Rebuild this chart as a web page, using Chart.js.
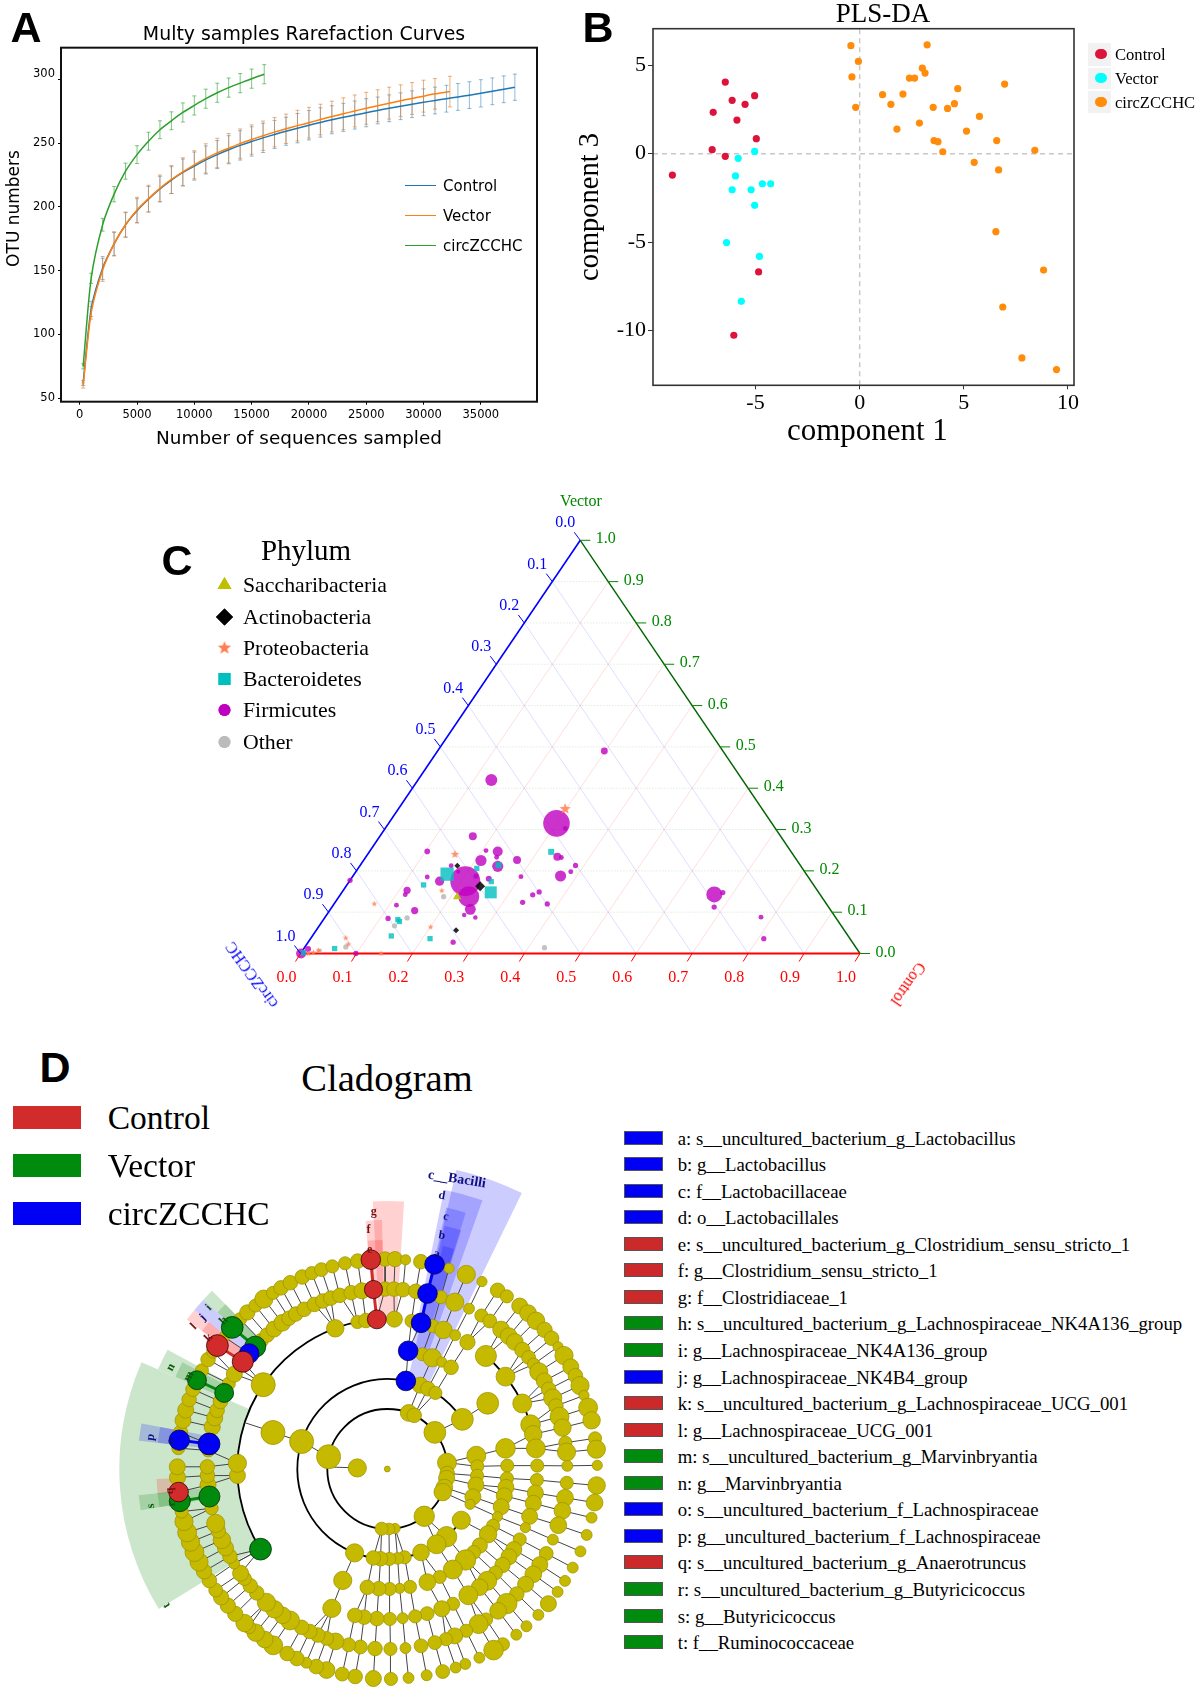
<!DOCTYPE html>
<html><head><meta charset="utf-8">
<script src="https://cdn.jsdelivr.net/npm/chart.js@4"></script>
<style>
html,body{margin:0;padding:0;background:#fff;width:1200px;height:1692px;overflow:hidden}
body{filter:blur(.4px)}
canvas{position:absolute}
.t{position:absolute;white-space:pre;line-height:1}
.s{position:absolute;box-sizing:border-box}
</style></head><body>
<script>
// ---------- Panel A: rarefaction ----------
const samplesControl=[300,1000,2000,3000,4000,5000,6000,7000,8000,9000,10000,11000,12000,13000,14000,15000,16000,17000,18000,19000,20000,21000,22000,23000,24000,25000,26000,27000,28000,29000,30000,31000,32000,33000,34000,35000,36000,37000,37970];
const otuControl=[62,120,152,171,186,197,206,214,221,227,232,236.8,241,244.8,248.2,251.3,254.1,256.8,259.3,261.7,264,266.2,268.3,270.2,272,273.8,275.6,277.3,278.9,280.5,282,283.4,284.8,286.2,287.6,289,290.6,292.2,293.8];
const errControl=[2,6,9,9,9.5,9.5,10,10,10.5,10.5,11,11,11,11,11.5,11.5,11.5,11,11,11.5,11.5,11.5,11,11,11,11,10.5,10.5,10.5,10.5,10.5,10.5,10.5,10.5,10.5,10.7,10.5,10.5,10.3];
const samplesVector=[300,1000,2000,3000,4000,5000,6000,7000,8000,9000,10000,11000,12000,13000,14000,15000,16000,17000,18000,19000,20000,21000,22000,23000,24000,25000,26000,27000,28000,29000,30000,31000,32300];
const otuVector=[60,117,150.6,171,186,197.6,206.5,214.5,221.5,227.5,233,238,242.3,246,249.6,252.8,255.8,258.6,261.2,263.7,266,268.5,270.8,273,275.2,277.3,279.3,281.3,283.2,285,286.8,288.6,290.4];
const errVector=[2,5,9,9.5,10,10,10.5,10.5,11,11,11,11.5,11.5,11.5,11.5,11.5,11.5,11.5,11.5,12,12,12,12,12.5,12.5,12.5,12.5,12.5,12.5,12.5,12.5,12,12];
const samplesCirc=[300,1000,2000,3000,4000,5000,6000,7000,8000,9000,10000,11000,12000,13000,14000,15000,16100];
const otuCirc=[75,144,186,210,228,241,251.5,260.5,267.5,274,279.5,284.8,289.5,293.5,297,300.5,304];
const errCirc=[2,4,5,6,6.3,7,7,7,7,7.5,7.5,7.5,7.5,7.5,7.5,7.5,7.5];
const ticksAx=[0,5000,10000,15000,20000,25000,30000,35000];
const ticksAy=[50,100,150,200,250,300];

// ---------- Panel B: PLS-DA (component 1, component 3) ----------
const plsControl=[[-8.99,-1.21],[-7.03,2.34],[-6.45,4.05],[-6.12,3.02],[-5.5,2.79],[-5.04,3.28],[-5.89,1.9],[-4.96,0.85],[-7.08,0.23],[-6.45,-0.15],[-4.85,-6.69],[-6.04,-10.27]];
const plsVector=[[-5.04,0.13],[-5.83,-0.26],[-5.96,-1.26],[-6.12,-2.04],[-5.21,-2.04],[-4.67,-1.7],[-4.27,-1.7],[-5.04,-2.92],[-6.39,-5.03],[-4.81,-5.81],[-5.68,-8.35]];
const plsCirc=[[-0.42,6.11],[3.24,6.16],[-0.06,5.22],[3.01,4.84],[3.14,4.56],[-0.37,4.34],[2.39,4.28],[2.64,4.28],[6.96,3.94],[4.71,3.68],[1.1,3.34],[2.08,3.37],[1.5,2.79],[-0.19,2.62],[3.53,2.62],[4.22,2.56],[4.55,2.83],[5.75,2.11],[1.79,1.39],[2.87,1.73],[5.13,1.28],[3.57,0.74],[3.76,0.68],[6.58,0.74],[3.99,0.11],[8.41,0.19],[5.5,-0.49],[6.67,-0.92],[6.54,-4.41],[8.83,-6.58],[6.87,-8.67],[7.79,-11.55],[9.45,-12.21]];
const ticksBx=[-5,0,5,10];
const ticksBy=[-10,-5,0,5];

// ---------- Panel C: ternary, [Control, Vector, abundance] ----------
const firmicutes=[[.298,.49,12],[.131,.42,36],[.3,.315,177],[.322,.3025,6],[.166,.284,16],[.103,.247,8],[.207,.249,6],[.229,.247,25],[.21,.225,31],[.234,.233,6],[.274,.226,16],[.247,.211,31],[.342,.234,16],[.35,.2325,6],[.385,.213,7],[.384,.198,6],[.371,.1875,31],[.301,.186,6],[.134,.185,6],[.161,.175,21],[.207,.175,225],[.232,.1375,110],[.25,.107,30],[.246,.181,9],[0,.177,7],[.114,.153,13],[.116,.1425,6],[.22,.1875,7],[.352,.149,7],[.344,.142,7],[.335,.124,7],[.381,.12,7],[.113,.117,6],[.152,.104,13],[.246,.093,5],[.269,.087,5],[.114,.085,7],[.259,.0275,7],[.668,.143,64],[.681,.1475,7],[.683,.1125,7],[.779,.088,6],[.81,.036,7],[.099,0,7],[.001,0,25],[.008,.011,9],[.163,.2125,6],[.183,.198,4]];
const bacteroidetes=[[.325,.246,18],[.247,.214,18],[.212,.206,14],[.166,.192,88],[.254,.174,14],[.266,.148,72],[.137,.166,14],[.133,.082,14],[.138,.0775,14],[.141,.0425,14],[.2135,.036,14],[.055,.012,14],[.004,.002,14]];
const actinobacteria=[[.174,.2125,9],[.2395,.163,25],[.25,.056,9]];
const proteobacteria=[[.298,.35,36],[.156,.24,20],[.1765,.152,10],[.072,.12,10],[.2005,.064,10],[.062,.0375,10],[.074,.0225,10],[.144,0,10],[.028,.0075,10],[.022,.0025,10],[.014,0,10]];
const saccharibacteria=[[.2115,.137,24]];
const otherPhyla=[[.187,.1375,7],[.1475,.086,7],[.1345,.067,7],[.073,.016,7],[.429,.014,7],[.031,.0067,5]];
const ternaryTicks=[0,.1,.2,.3,.4,.5,.6,.7,.8,.9,1];

// ---------- Panel D: cladogram, [angle clockwise from top, abundance] per ring ----------
const ring7=[[359.4,20],[2.1,21],[5,14],[9.2,20],[17.1,14],[22.1,25],[26.8,14],[31.7,20],[34.7,18],[39.1,22],[42.1,23],[45.1,24],[48.5,21],[51.5,20],[54.4,14],[57.3,25],[60.9,22],[63.6,20],[66.6,25],[69.5,14],[73,26],[76.6,24],[81.6,18],[84.6,25],[89,14],[94.5,24],[99.2,23],[103.4,15],[108.3,15],[113.1,15],[118,15],[122.2,15],[125.8,15],[129.9,22],[134,15],[138.5,15],[142.1,15],[146.6,18],[149.6,27],[154,15],[158.2,15],[161,15],[164.7,19],[169.2,15],[174.2,15],[179,18],[183.8,22],[188.8,20],[192.4,19],[196.8,23],[199.8,20],[202.7,15],[205.5,20],[208.5,20],[212.9,26],[215.7,23],[218.8,24],[221.2,18],[222.8,24],[226.4,21],[229.4,21],[232.3,21],[234.8,19],[237.9,20],[240.8,21],[243.7,25],[246.7,26],[249.6,25],[252.4,26],[255.5,25],[258.3,18],[267.7,22],[270.6,22],[275.7,18],[280,20],[283.4,22],[286.3,22],[289.3,20],[292.3,20],[298,18],[301.4,20],[304,18],[309,15],[315.5,18],[318.2,21],[321.1,18],[324,25],[327,18],[329.6,20],[332.5,20],[336.1,20],[338.9,18],[341.7,19],[344.8,18],[348.4,18],[351.9,20]];
const ring6=[[359.3,20],[2.1,20],[5,20],[9.1,20],[17.3,18],[22,25],[27,15],[31.5,18],[34.7,19],[39.2,23],[42.4,23],[45.1,23],[48.6,21],[51.7,19],[54.4,17],[57.3,25],[60.7,22],[63.7,20],[66.8,25],[69.5,20],[73.1,26],[76.7,24],[81.6,18],[84.6,25],[89,15],[94.4,18],[99.2,23],[103.4,23],[108.2,23],[113.1,15],[118,19],[122.1,22],[125.8,23],[129.8,22],[134,20],[138.4,28],[142,23],[146.7,18],[149.5,26],[154,18],[158,22],[161,18],[164.7,19],[169.2,19],[174.2,15],[179,18],[183.9,20],[188.6,19],[192.4,19],[196.7,23],[199.7,19],[202.7,20],[205.5,20],[208.4,20],[212.7,26],[215.6,23],[218.8,24],[222.2,25],[226.5,20],[229.6,20],[232.5,19],[234.6,22],[238.3,15],[241,20],[244,22],[246.8,24],[249.9,20],[252.4,25],[257.4,18],[264.9,22],[267.9,20],[270.7,20],[275.9,18],[283.5,22],[286.5,22],[289,20],[292,20],[298.3,18],[301.8,22],[315.4,20],[318.1,20],[321,22],[324.3,23],[326.9,20],[329.4,20],[332.5,20],[336.1,20],[339,20],[341.7,20],[344.7,20],[348.4,20],[351.9,22]];
const ring5=[[2.7,22],[9.3,18],[17.6,18],[22,24],[26.9,15],[32.3,21],[41.1,29],[52,26],[64.1,26],[72.8,27],[76.6,24],[82.1,26],[88.7,18],[94.2,18],[99.2,22],[103.2,22],[108.4,22],[113,14],[118,18],[122.5,22],[125.8,22],[129.8,21],[133.8,19],[138.2,26],[142,23],[147.3,26],[154,18],[158.7,22],[164.6,19],[169.3,18],[174.1,15],[179,18],[184,20],[188.9,20],[192.5,20],[201.7,25],[267.5,22],[272.2,25],[304.2,33],[339.7,24],[348.5,18],[351.8,20]];
const ring4=[[17,18],[22,25],[27,14],[32.1,20],[56.8,30],[80.1,27],[88.4,18],[94.5,18],[98.8,22],[102.9,22],[108.3,22],[113.4,14],[118.2,18],[122.9,24],[129.6,21],[134,19],[139.3,28],[146.9,26],[154.1,18],[160.5,23],[169.1,18],[174.1,14],[178.9,18],[184.1,20],[189.6,20],[201.8,25],[287.7,33]];
const ring3=[[21.4,22],[26.8,20],[32.3,18],[56.5,30],[81.5,26],[88.3,18],[94.3,18],[100.2,22],[108,22],[113.1,14],[124.7,25],[138.8,28],[146.8,26],[158,23],[168.9,18],[173.4,16],[178.7,18],[184.3,20],[188.9,20],[201.3,25],[287.8,33]];
const ring2=[[20.9,23],[26.6,20],[52.4,30],[83.9,26],[94.2,20],[98.9,22],[108,23],[112.6,24],[142,28],[172.6,14],[178.4,16],[185.4,18],[281.8,33]];
const ring1=[[272,25]];
const ring0=[[0,8]];
// enriched clades: [ring, angle, abundance]
const cladeControl=[[7,355.5,27],[6,355.6,25],[5,356,26],[7,306,30],[6,306.6,29],[7,263.7,27]];
const cladeVector=[[7,312.4,30],[6,312.8,29],[7,295,26],[6,295,26],[6,261.2,29],[7,261.2,29],[5,237.7,30]];
const cladeCirc=[[3,11.9,27],[4,10,27],[5,13,27],[6,12.9,27],[7,13,27],[6,278,30],[7,277.9,28],[6,309.9,27]];
const chainControl=[[[5,356],[6,355.6],[7,355.5]],[[6,306.6],[7,306]]];
const chainVector=[[[6,312.8],[7,312.4]],[[6,295],[7,295]],[[6,261.2],[7,261.2]]];
const chainCirc=[[[5,13],[6,12.9],[7,13]],[[6,278],[7,277.9]]];
const legendItems=["a: s__uncultured_bacterium_g_Lactobacillus","b: g__Lactobacillus","c: f__Lactobacillaceae","d: o__Lactobacillales","e: s__uncultured_bacterium_g_Clostridium_sensu_stricto_1","f: g__Clostridium_sensu_stricto_1","g: f__Clostridiaceae_1","h: s__uncultured_bacterium_g_Lachnospiraceae_NK4A136_group","i: g__Lachnospiraceae_NK4A136_group","j: g__Lachnospiraceae_NK4B4_group","k: s__uncultured_bacterium_g_Lachnospiraceae_UCG_001","l: g__Lachnospiraceae_UCG_001","m: s__uncultured_bacterium_g_Marvinbryantia","n: g__Marvinbryantia","o: s__uncultured_bacterium_f_Lachnospiraceae","p: g__uncultured_bacterium_f_Lachnospiraceae","q: s__uncultured_bacterium_g_Anaerotruncus","r: s__uncultured_bacterium_g_Butyricicoccus","s: g__Butyricicoccus","t: f__Ruminococcaceae"];
const legendClass=["circ","circ","circ","circ","ctrl","ctrl","ctrl","vec","vec","circ","ctrl","ctrl","vec","vec","circ","circ","ctrl","vec","vec","vec"];

// ---------- helpers ----------
const SERIF='"Liberation Serif",serif', SANS='"Liberation Sans",sans-serif', DEJA='"DejaVu Sans",sans-serif';
function txt(s,x,y,o={}){const e=document.createElement('div');e.className='t';e.textContent=s;
 e.style.cssText+=`left:${x}px;top:${y}px;font:${o.style||''} ${o.weight||'normal'} ${o.size||16}px ${o.font||SERIF};color:${o.color||'#000'};line-height:1;`+
 `transform:translate(${o.left?'0':'-50%'},-50%) rotate(${o.rot||0}deg);`;document.body.appendChild(e);return e;}
function box(x,y,w,h,bg,extra=''){const e=document.createElement('div');e.className='s';e.style.cssText+=`left:${x}px;top:${y}px;width:${w}px;height:${h}px;background:${bg};${extra}`;document.body.appendChild(e);}
function cv(x,y,w,h){const c=document.createElement('canvas');c.width=w;c.height=h;c.style.cssText=`left:${x}px;top:${y}px;width:${w}px;height:${h}px`;document.body.appendChild(c);return c;}
const base={responsive:false,animation:false,devicePixelRatio:1,events:[]};
const noLegend={legend:{display:false},tooltip:{enabled:false}};
const frame=(color,w)=>({id:'frame',afterDatasetsDraw(ch){const a=ch.chartArea,c=ch.ctx;c.save();c.strokeStyle=color;c.lineWidth=w;c.strokeRect(a.left,a.top,a.right-a.left,a.bottom-a.top);c.restore();}});
const errSeg=(xs,ys,es)=>xs.flatMap((x,i)=>[{x,y:ys[i]-es[i]},{x,y:ys[i]+es[i]},{x,y:null}]);
const curve=(xs,ys)=>xs.map((x,i)=>({x,y:ys[i]}));
const rightGap=w=>({position:'right',display:true,ticks:{display:false},grid:{display:false},border:{display:false},afterFit:s=>{s.width=w}});

// ---------- A ----------
function errDs(xs,ys,es,col){return {data:errSeg(xs,ys,es),showLine:true,borderColor:col,borderWidth:1,pointStyle:'line',pointRadius:2,pointBorderColor:col,pointBorderWidth:1,spanGaps:false};}
function lineDs(xs,ys,col,w){return {data:curve(xs,ys),showLine:true,borderColor:col,borderWidth:w,pointRadius:0,tension:.25};}
const BL='#1f77b4',OR='#ff7f0e',GR='#2ca02c';
new Chart(cv(0,0,608,470),{type:'scatter',data:{datasets:[
 lineDs(samplesVector,otuVector,OR,1.5),lineDs(samplesControl,otuControl,BL,1.5),lineDs(samplesCirc,otuCirc,GR,1.5),
 errDs(samplesVector,otuVector,errVector,'rgba(224,124,40,.6)'),errDs(samplesControl,otuControl,errControl,'rgba(31,119,180,.5)'),errDs(samplesCirc,otuCirc,errCirc,'rgba(44,160,44,.6)')]},
 options:{...base,layout:{padding:0,autoPadding:false},plugins:{...noLegend,title:{display:true,text:'Multy samples Rarefaction Curves',color:'#000',font:{family:'DejaVu Sans',size:18.9,weight:'normal',lineHeight:1.2},padding:{top:23.7,bottom:1.3}}},
 scales:{x:{type:'linear',min:-1632,max:39900,afterBuildTicks:s=>{s.ticks=ticksAx.map(v=>({value:v}))},afterFit:s=>{s.height=68.3},
   ticks:{maxRotation:0,autoSkip:false,color:'#000',font:{family:'DejaVu Sans',size:11.5},padding:3,callback:v=>String(v)},grid:{drawOnChartArea:false,tickLength:3,color:'#000'},border:{display:false},
   title:{display:true,text:'Number of sequences sampled',color:'#000',font:{family:'DejaVu Sans',size:18.4,weight:'normal'},padding:{top:4,bottom:20}}},
  y:{min:47.3,max:324.8,afterBuildTicks:s=>{s.ticks=ticksAy.map(v=>({value:v}))},afterFit:s=>{s.width=61},
   ticks:{autoSkip:false,color:'#000',font:{family:'DejaVu Sans',size:11.5,lineHeight:1},padding:3,callback:v=>v===300?['300','']:String(v)},grid:{drawOnChartArea:false,tickLength:3,color:'#000'},border:{display:false},
   title:{display:true,text:'      OTU numbers',color:'#000',font:{family:'DejaVu Sans',size:17,weight:'normal'},padding:{top:4,bottom:0}}},
  yGap:rightGap(71)}},
 plugins:[frame('#111',2)]});
[['Control',BL,185.7],['Vector',OR,215.7],['circZCCHC',GR,245.7]].forEach(([s,c,y])=>{box(404.5,y-.75,31,1.5,c);txt(s,443,y,{font:DEJA,size:15,left:true});});
txt('A',26,26.5,{font:SANS,weight:'bold',size:43});

// ---------- B ----------
const P=a=>a.map(([x,y])=>({x,y}));
const ptDs=(a,col)=>({data:P(a),pointRadius:3.6,pointBackgroundColor:col,pointBorderColor:col,pointBorderWidth:0});
const xB=[-9.92,10.29], yB=[-13.1,7.07];
const dash={showLine:true,borderColor:'#c8c8c8',borderWidth:1.5,borderDash:[5,4],pointRadius:0};
new Chart(cv(570,0,626,450),{type:'scatter',data:{datasets:[
 ptDs(plsControl,'#dc143c'),ptDs(plsVector,'#00ffff'),ptDs(plsCirc,'#ff8c0a'),
 {...dash,data:[{x:xB[0],y:0},{x:xB[1],y:0}]},{...dash,data:[{x:0,y:yB[0]},{x:0,y:yB[1]}]}]},
 options:{...base,layout:{padding:0,autoPadding:false},plugins:{...noLegend,title:{display:true,text:'PLS-DA',color:'#000',font:{family:'Liberation Serif',size:27,weight:'normal',lineHeight:1},padding:{top:1.2,bottom:.5}}},
 scales:{x:{type:'linear',min:xB[0],max:xB[1],afterBuildTicks:s=>{s.ticks=ticksBx.map(v=>({value:v}))},afterFit:s=>{s.height=64.7},
   ticks:{maxRotation:0,autoSkip:false,color:'#000',font:{family:'Liberation Serif',size:22},padding:1,callback:v=>String(v)},grid:{drawOnChartArea:false,tickLength:4,color:'#333'},border:{display:false},
   title:{display:true,text:' component 1',color:'#000',font:{family:'Liberation Serif',size:31,weight:'normal'},padding:{top:0,bottom:0}}},
  y:{min:yB[0],max:yB[1],afterBuildTicks:s=>{s.ticks=ticksBy.map(v=>({value:v}))},afterFit:s=>{s.width=83},
   ticks:{autoSkip:false,color:'#000',font:{family:'Liberation Serif',size:22},padding:2,callback:v=>String(v)},grid:{drawOnChartArea:false,tickLength:5,color:'#333'},border:{display:false},
   title:{display:true,text:'component 3',color:'#000',font:{family:'Liberation Serif',size:28.5,weight:'normal'},padding:{top:3,bottom:0}}},
  yGap:rightGap(122)}},
 plugins:[frame('#333',1.6)]});
[['Control','#dc143c',54,43,23],['Vector','#00ffff',78,68,21],['circZCCHC','#ff8c0a',102,91,22]].forEach(([s,c,y,t,h])=>{box(1088,t,23,h,'#f2f2f2');
 box(1095.4,y-5.4,11.2,10.8,c,'border-radius:50%');txt(s,1115,y+1,{size:16.6,left:true});});
txt('B',598,26.5,{font:SANS,weight:'bold',size:43});

// ---------- C ----------
const tern=([c,v,a])=>({x:c+v/2,y:v,a});
const rad=ctx=>Math.sqrt(ctx.raw&&ctx.raw.a||1);
const starCache={};
function starCanvas(r,col){const k=r.toFixed(2)+col;if(starCache[k])return starCache[k];const s=Math.ceil(2*r+2),c=document.createElement('canvas');c.width=c.height=s;const g=c.getContext('2d');
 g.fillStyle=col;g.beginPath();for(let i=0;i<10;i++){const R=i%2?r*.42:r,t=-Math.PI/2+i*Math.PI/5;g.lineTo(s/2+R*Math.cos(t),s/2+R*Math.sin(t));}g.closePath();g.fill();return starCache[k]=c;}
const COR='rgba(255,127,80,.85)',MAG='rgba(191,0,191,.8)',TEA='rgba(0,191,191,.8)',BLK='rgba(0,0,0,.85)',YEL='rgba(191,191,0,.9)',SIL='rgba(185,185,185,.85)';
const ternDs=(arr,style,col)=>({data:arr.map(tern),pointStyle:style,pointRadius:rad,pointBackgroundColor:col,pointBorderWidth:0,pointBorderColor:col});
const gridOf=(pairs,col,dash,w)=>({data:pairs.flatMap(([a,b])=>[tern([a[0],a[1],1]),tern([b[0],b[1],1]),{x:0,y:null}]),showLine:true,borderColor:col,borderWidth:w,borderDash:dash||[],pointRadius:0});
const inner=ternaryTicks.slice(1,-1);
const tOff={ctrl:{t:[-5,8],l:[-14,24]},circ:{t:[-6,-8],l:[-15,-17]},vec:{t:[10,0],l:[25.5,-1]}};
const ternPlugin={id:'ternTicks',afterDatasetsDraw(ch){const c=ch.ctx,X=ch.scales.x,Y=ch.scales.y;c.save();c.textAlign='center';c.textBaseline='middle';c.font='16px "Liberation Serif"';
 const tick=(pt,o,label,col)=>{const px=X.getPixelForValue(pt.x),py=Y.getPixelForValue(pt.y);c.strokeStyle=c.fillStyle=col;c.lineWidth=1;c.beginPath();c.moveTo(px,py);c.lineTo(px+o.t[0],py+o.t[1]);c.stroke();c.fillText(label,px+o.l[0],py+o.l[1]);};
 ternaryTicks.forEach(k=>{const L=k.toFixed(1);
  tick(tern([k,0,1]),tOff.ctrl,L,'#f00');
  tick(tern([0,1-k,1]),tOff.circ,L,'#00f');
  tick(tern([1-k,k,1]),tOff.vec,L,'#080');});
 c.restore();}};
const xC=[-0.269,1.1608],yC=[-0.1609,1.1459];
new Chart(cv(150,480,800,540),{type:'scatter',data:{datasets:[
 ternDs(actinobacteria,'rectRot',BLK),ternDs(saccharibacteria,'triangle',YEL),
 ternDs(proteobacteria,ctx=>starCanvas(rad(ctx),COR),COR),
 ternDs(bacteroidetes,'rect',TEA),ternDs(firmicutes,'circle',MAG),ternDs(otherPhyla,'circle',SIL),
 gridOf([[[0,0],[1,0]]],'#f00',null,2),gridOf([[[0,0],[0,1]]],'#0000ff',null,1.6),gridOf([[[1,0],[0,1]]],'#006400',null,1.4),
 gridOf(inner.map(k=>[[0,k],[1-k,k]]),'rgba(0,128,0,.2)',[1,2],1),
 gridOf(inner.map(k=>[[k,0],[k,1-k]]),'rgba(255,0,0,.17)',null,.8),
 gridOf(inner.map(k=>[[0,1-k],[1-k,0]]),'rgba(0,0,255,.17)',null,.8)]},
 options:{...base,layout:{padding:0,autoPadding:false},plugins:{...noLegend},scales:{x:{type:'linear',display:false,min:xC[0],max:xC[1]},y:{display:false,min:yC[0],max:yC[1]}}},
 plugins:[ternPlugin]});
txt('Vector',581,501,{size:16,color:'#080'});
txt('circZCCHC',252,975,{size:16,color:'#00f',rot:-126});
txt('Control',907.6,984,{size:16,color:'#f00',rot:125});
txt('C',177,560,{font:SANS,weight:'bold',size:43});
txt('Phylum',306,550,{size:29});
const cLegend=[['Saccharibacteria',585,'triangle','#bfbf00',8],['Actinobacteria',617,'rectRot','#000',8.5],['Proteobacteria',648,'star','#ff7f50',7],['Bacteroidetes',679,'rect','#00bfbf',8.5],['Firmicutes',710,'circle','#bf00bf',6],['Other',742,'circle','#bbb',6]];
cLegend.forEach(([s,y])=>txt(s,243,y+1.3,{size:21.8,left:true}));
const cLeg=cv(210,570,30,190);
{const c=cLeg.getContext('2d');cLegend.forEach(([s,y,st,col,r])=>{const yy=y-570;c.fillStyle=col;c.strokeStyle=col;
  if(st==='star'){c.drawImage(starCanvas(r,col),14.5-r-1,yy-r-1);}else Chart.helpers.drawPoint(c,{pointStyle:st,rotation:0,radius:r,borderWidth:0},14.5,yy);
  if(st!=='star'){c.fill();}});}

// ---------- D ----------
const ringR=[0,30,60,90,120,150,180,210];
const polar=(L,a)=>{const t=a*Math.PI/180;return {x:ringR[L]*Math.sin(t),y:ringR[L]*Math.cos(t)};};
const rings=[ring0,ring1,ring2,ring3,ring4,ring5,ring6,ring7];
const yellow=rings.flatMap((r,L)=>r.map(([a,s])=>({...polar(L,a),s})));
const cladePts=arr=>arr.map(([L,a,s])=>({...polar(L,a),s}));
const angDiff=(a,b)=>Math.abs(((a-b+540)%360)-180);
const allByRing=rings.map((r,L)=>[...r.map(n=>n[0]),...[...cladeControl,...cladeVector,...cladeCirc].filter(n=>n[0]===L).map(n=>n[1])]);
const spokes=[];
for(let L=3;L<=7;L++){allByRing[L].forEach(a=>{let best=null,bd=1e9;allByRing[L-1].forEach(b=>{const d=angDiff(a,b);if(d<bd){bd=d;best=b;}});
  if(best!==null&&bd<(L<=3?7:4)){spokes.push(polar(L,a),polar(L-1,best),{x:0,y:null});}});}
[[1,272,2,272],[4,288,5,288],[5,304.2,6,304.2],[5,237.7,6,238.3]].forEach(([A,a,B,b])=>spokes.push(polar(A,a),polar(B,b),{x:0,y:null}));
const chainData=ch=>ch.flatMap(c=>[...c.map(([L,a])=>polar(L,a)),{x:0,y:null}]);
// [start angle, end angle, inner radius ring, outer radius, colour] — clade highlights
const G='rgba(0,128,0,.2)',B='rgba(0,0,255,.2)',R='rgba(255,0,0,.18)';
const wedges=[[238.5,293.5,5,268,G],[293.5,298.5,6,250,G],[293.5,297.5,6,231,G],[306.7,309.5,6,250,R],[306.7,309.5,6,231,R],[309.5,312.7,6,250,B],[312.7,315.5,6,250,G],[312.7,315.5,6,231,G],[276.5,280.5,6,250,B],[276.5,280.5,7,231,B],[263.8,267.5,7,231,R],[260.5,264,6,250,G],[260.5,264,7,231,G],[13,26,3,307,B],[11.5,19.5,4,285,B],[12.7,17,5,268,B],[13.3,17.2,6,250,B],[14,16.9,7,230,B],[-3.1,3.6,5,268,R],[-5,-1.2,6,249,R],[-5,-1.2,7,229,R]];
// [ring, start angle, end angle] — tree arcs
const arcs=[[2,0,360],[3,158,372],[3,32,56.5],[3,124.7,146.8],[5,237.7,356],[5,41,76.6],[5,154,158.7]];
const cladePlugin={id:'clade',beforeDatasetsDraw(ch){const c=ch.ctx,X=ch.scales.x,Y=ch.scales.y,ox=X.getPixelForValue(0),oy=Y.getPixelForValue(0),k=X.getPixelForValue(1)-ox;c.save();
 wedges.forEach(([a0,a1,L,ro,col])=>{const s=(a0-90)*Math.PI/180,e=(a1-90)*Math.PI/180;c.fillStyle=col;c.beginPath();c.arc(ox,oy,ro*k,s,e);c.arc(ox,oy,ringR[L]*k,e,s,true);c.closePath();c.fill();});
 c.strokeStyle='#000';c.lineWidth=1.8;
 arcs.forEach(([L,a0,a1])=>{c.beginPath();c.arc(ox,oy,ringR[L]*k,(a0-90)*Math.PI/180,(a1-90)*Math.PI/180);c.stroke();});c.restore();}};
const nodeR=ctx=>ctx.raw&&ctx.raw.s?ctx.raw.s/2.75:1;
const nodeDs=(pts,bg,bd)=>({data:pts,pointRadius:nodeR,pointBackgroundColor:bg,pointBorderColor:bd,pointBorderWidth:.8});
const thick=(ch,col)=>({data:chainData(ch),showLine:true,borderColor:col,borderWidth:3,pointRadius:0});
const CR='#d22b2b',CG='#008a0e',CB='#0000f5';
new Chart(cv(100,1170,520,522),{type:'scatter',data:{datasets:[
 nodeDs(cladePts(cladeControl),CR,'#3a0000'),nodeDs(cladePts(cladeCirc),CB,'#000050'),nodeDs(cladePts(cladeVector),CG,'#003000'),
 thick(chainControl,CR),thick(chainCirc,CB),thick(chainVector,CG),
 nodeDs(yellow,'#c6ba00','#a09600'),
 {data:spokes,showLine:true,borderColor:'#444',borderWidth:1,pointRadius:0}]},
 options:{...base,layout:{padding:0,autoPadding:false},plugins:{...noLegend},scales:{x:{type:'linear',display:false,min:-287.3,max:232.7},y:{display:false,min:-223,max:299}}},
 plugins:[cladePlugin]});
txt('D',55,1067,{font:SANS,weight:'bold',size:43});
txt('Cladogram',387,1078,{size:38.6});
[['Control',CR,1117],['Vector','#008a0e',1165],['circZCCHC','#0000f5',1213]].forEach(([s,c,y])=>{box(13,y-11.5,68,23.5,c);txt(s,107.7,y+1,{size:33.5,left:true});});
const tagCol={r:'#7a1010',b:'#101080',g:'#0a5a0a'};
[['g',373.7,1210.5,'r',0],['f',368.5,1229,'r',0],['e',369.7,1249,'r',0],['d',441.7,1194.7,'b',10],['c',446,1216,'b',10],['b',441.7,1234.6,'b',10],['a',437,1253,'b',10],
 ['p',149.5,1437,'b',-80],['o',170,1441,'b',-80],['s',150,1505.7,'g',-95],['r',171,1503.6,'g',-95],['q',169,1491,'r',-95],['t',166,1605.5,'g',-122],['n',170,1367,'g',-62],['m',188,1376,'g',-62],
 ['i',208,1307,'g',-45],['j',201.7,1317,'b',-45],['l',193,1326,'r',-45],['k',208,1337,'r',-45],['h',223,1320,'g',-45]].forEach(([s,x,y,c,r])=>txt(s,x,y,{size:12,color:tagCol[c],rot:r,weight:'bold'}));
txt('c__Bacilli',456.7,1179,{size:14,color:'#101080',rot:9,weight:'bold'});
const legCol={circ:'#0000f5',ctrl:'#cc2a2a',vec:'#008a0e'};
legendItems.forEach((s,i)=>{const y=1137.5+i*26.56;box(624,y-7,39,14,legCol[legendClass[i]],'border:1px solid #555;');txt(s,677.7,y+1,{size:18.75,left:true});});
</script>
</body></html>
